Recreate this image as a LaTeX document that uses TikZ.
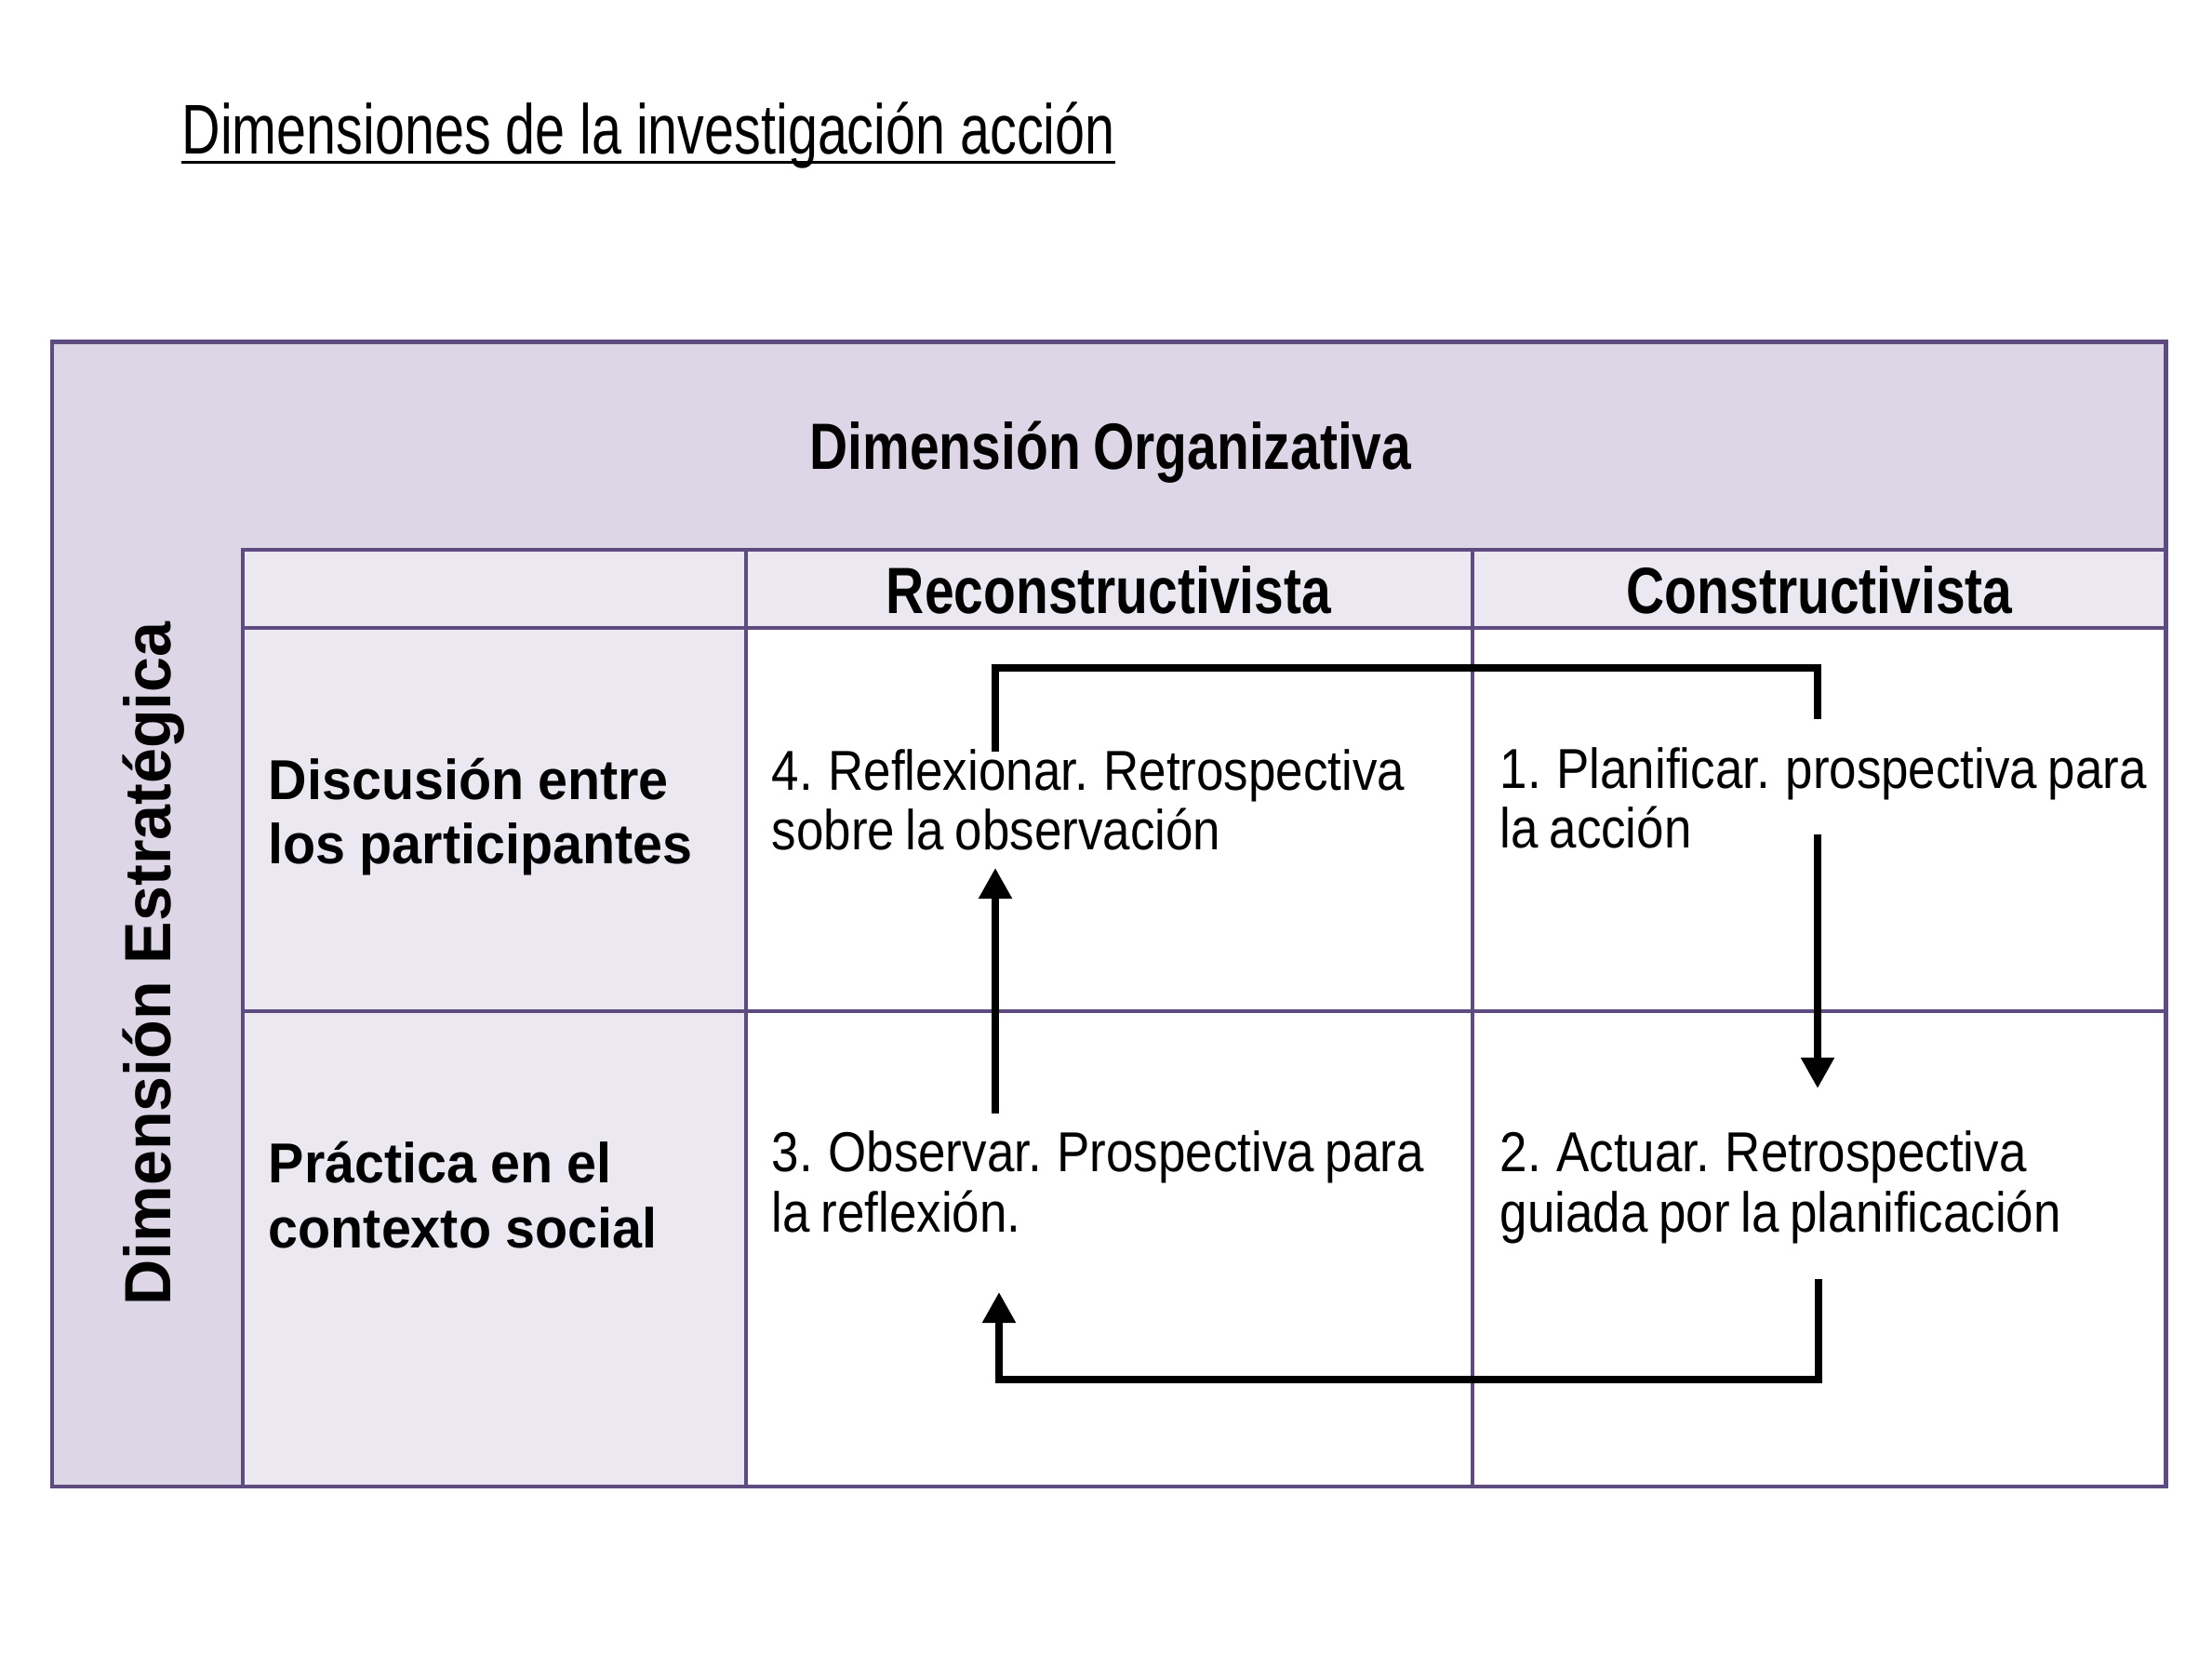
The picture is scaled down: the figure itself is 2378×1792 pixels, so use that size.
\documentclass[tikz,border=0pt]{standalone}
\usepackage{fontspec}
\setmainfont{Liberation Sans}
\newfontfamily\titlef[FakeStretch=0.76]{Liberation Sans}
\newfontfamily\cellf[FakeStretch=0.875,WordSpace=0.8]{Liberation Sans}
\newfontfamily\headf[FakeStretch=0.81,WordSpace=0.85]{Liberation Sans}
\newfontfamily\rowf[FakeStretch=0.95,WordSpace=0.95]{Liberation Sans}
\newfontfamily\vertf[FakeStretch=0.97]{Liberation Sans}
\usetikzlibrary{arrows.meta}
\definecolor{gridline}{RGB}{94,76,128}
\definecolor{bandfill}{RGB}{220,214,230}
\definecolor{labelfill}{RGB}{236,232,242}
\tikzset{
  frame/.style={draw=gridline, line width=1.42pt},
  inner/.style={draw=gridline, line width=1.2pt},
  thinline/.style={draw=gridline, line width=0.9pt},
  titletext/.style={inner sep=0pt, anchor=base west, font=\titlef\fontsize{21.5}{24}\selectfont},
  headtext/.style={inner sep=0pt, anchor=base, font=\headf\bfseries\fontsize{20}{24}\selectfont},
  rowtext/.style={inner sep=0pt, anchor=base west, align=left, font=\rowf\bfseries\fontsize{17.2}{19.9}\selectfont},
  celltext/.style={inner sep=0pt, anchor=base west, align=left, font=\cellf\fontsize{17.2}{18.2}\selectfont},
  verttext/.style={inner sep=0pt, anchor=base, rotate=90, font=\vertf\bfseries\fontsize{20}{24}\selectfont},
  conn/.style={draw=black, line width=2.28pt, line join=miter},
  arr/.style={conn, -{Triangle[length=9.4pt,width=9.7pt]}}
}
\begin{document}
\begin{tikzpicture}[x=0.01cm, y=-0.01cm]
\useasboundingbox (0,0) rectangle (2378,1792);
\fill[white] (0,0) rectangle (2378,1792);
% fills
\fill[bandfill] (56,368) rectangle (2328,1598);
\fill[labelfill] (261,591) rectangle (2328,675);
\fill[labelfill] (261,675) rectangle (802,1598);
\fill[white] (802,675) rectangle (2328,1598);
% grid lines
\draw[inner] (261,1598) -- (261,591) -- (2328,591);
\draw[inner] (261,675) -- (2328,675);
\draw[inner] (261,1087) -- (2328,1087);
\draw[inner] (802,591) -- (802,1598);
\draw[inner] (1583,591) -- (1583,675);
\draw[thinline] (1583,675) -- (1583,1598);
\draw[frame] (56,368) rectangle (2328,1598);
% title
\node[titletext] (title) at (195,166) {Dimensiones de la investigación acción};
\draw[line width=0.85pt] ([yshift=-2.5pt]title.base west) -- ([yshift=-2.5pt]title.base east);
% headings
\node[headtext] (orgdim) at (1194,505) {Dimensión Organizativa};
\node[headtext] (recon) at (1192,660) {Reconstructivista};
\node[headtext] (constr) at (1956,660) {Constructivista};
\node[verttext] (estdim) at (183,1036) {Dimensión Estratégica};
% row labels (anchor = baseline of last line)
\node[rowtext] (rowA) at (288,929) {Discusión entre\\los participantes};
\node[rowtext] (rowB) at (288,1341) {Práctica en el\\contexto social};
% cells
\node[celltext] (c4) at (829,914) {4. Reflexionar. Retrospectiva\\sobre la observación};
\node[celltext] (c1) at (1612,912) {1. Planificar. prospectiva para\\la acción};
\node[celltext] (c3) at (829,1324) {3. Observar. Prospectiva para\\la reflexión.};
\node[celltext] (c2) at (1612,1324) {2. Actuar. Retrospectiva\\guiada por la planificación};
% connector coordinates
\coordinate (tA) at (1070,808);
\coordinate (tB) at (1954,773);
\coordinate (rA) at (1954,897);
\coordinate (rB) at (1954,1170);
\coordinate (lA) at (1070,1197);
\coordinate (lB) at (1070,933);
\coordinate (bA) at (1955,1375);
\coordinate (bB) at (1074,1389);
% connectors
\draw[conn] (tA) -- (tA |- 0,718) -- (tB |- 0,718) -- (tB);
\draw[arr] (rA) -- (rB);
\draw[arr] (lA) -- (lB);
\draw[arr] (bA) -- (bA |- 0,1483) -- (bB |- 0,1483) -- (bB);
\end{tikzpicture}
\end{document}
